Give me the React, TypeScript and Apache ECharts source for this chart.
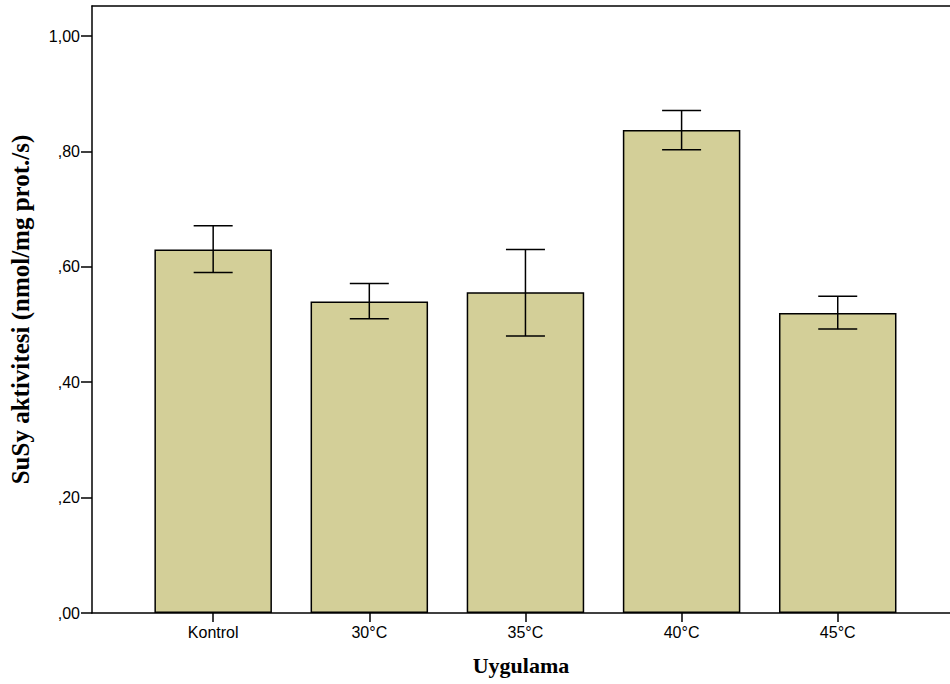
import React, { useEffect, useRef } from "react";
import * as echarts from "echarts";

const categories = ["Kontrol", "30°C", "35°C", "40°C", "45°C"];
const means = [0.63, 0.54, 0.556, 0.837, 0.52];
const errLow = [0.59, 0.51, 0.48, 0.803, 0.492];
const errHigh = [0.671, 0.571, 0.63, 0.871, 0.549];
const yTicks = [0, 0.2, 0.4, 0.6, 0.8, 1.0];

function fmtY(v: number): string {
  const s = v.toFixed(2).replace(".", ",");
  return s.startsWith("0") ? s.slice(1) : s;
}

export default function App() {
  const ref = useRef<HTMLDivElement>(null);
  useEffect(() => {
    if (!ref.current) return;
    const chart = echarts.init(ref.current, null, { renderer: "svg" });
    const idx = categories.map((_, i) => i);
    chart.setOption({
      animation: false,
      backgroundColor: "#ffffff",
      grid: { left: 92, right: 0, top: 6, bottom: 71 },
      xAxis: [
        {
          type: "value",
          min: -0.776,
          max: 4.719,
          axisLine: { show: true, onZero: false, lineStyle: { color: "#000", width: 1.5 } },
          axisTick: { show: true, customValues: idx, length: 9, lineStyle: { color: "#000", width: 1.5 } },
          axisLabel: {
            customValues: idx,
            formatter: (v: number) => categories[Math.round(v)] ?? "",
            color: "#000",
            fontFamily: "Liberation Sans",
            fontSize: 16,
            margin: 11,
          },
          splitLine: { show: false },
          name: "Uygulama",
          nameLocation: "middle",
          nameGap: 41,
          nameTextStyle: { fontFamily: "Liberation Serif", fontWeight: "bold", fontSize: 22, color: "#000" },
        },
        {
          type: "value",
          position: "top",
          min: -0.776,
          max: 4.719,
          axisLine: { show: true, onZero: false, lineStyle: { color: "#000", width: 1.5 } },
          axisTick: { show: false },
          axisLabel: { show: false },
          splitLine: { show: false },
        },
      ],
      yAxis: {
        type: "value",
        min: 0,
        max: 1.052,
        axisLine: { show: true, onZero: false, lineStyle: { color: "#000", width: 1.5 } },
        axisTick: { show: true, customValues: yTicks, length: 11, lineStyle: { color: "#000", width: 1.5 } },
        axisLabel: {
          customValues: yTicks,
          formatter: (v: number) => fmtY(v),
          color: "#000",
          fontFamily: "Liberation Sans",
          fontSize: 16,
          margin: 12,
        },
        splitLine: { show: false },
        name: "SuSy aktivitesi (nmol/mg prot./s)",
        nameLocation: "middle",
        nameGap: 59,
        nameTextStyle: { fontFamily: "Liberation Serif", fontWeight: "bold", fontSize: 25, color: "#000" },
      },
      series: [
        {
          type: "bar",
          xAxisIndex: 0,
          data: means.map((m, i) => [i, m]),
          barWidth: 117.5,
          itemStyle: { color: "#d3cf98", borderColor: "#000", borderWidth: 1.5 },
        },
        {
          type: "custom",
          xAxisIndex: 0,
          data: idx.map((i) => [i, errLow[i], errHigh[i]]),
          renderItem: (_params: any, api: any) => {
            const x = api.value(0);
            const lo = api.coord([x, api.value(1)]);
            const hi = api.coord([x, api.value(2)]);
            const hw = 19.5;
            const style = { stroke: "#000", lineWidth: 1.5 };
            return {
              type: "group",
              children: [
                { type: "line", shape: { x1: hi[0], y1: hi[1], x2: lo[0], y2: lo[1] }, style },
                { type: "line", shape: { x1: hi[0] - hw, y1: hi[1], x2: hi[0] + hw, y2: hi[1] }, style },
                { type: "line", shape: { x1: lo[0] - hw, y1: lo[1], x2: lo[0] + hw, y2: lo[1] }, style },
              ],
            };
          },
          z: 5,
        },
      ],
    });
    return () => chart.dispose();
  }, []);
  return (
    <div
      ref={ref}
      style={{ position: "fixed", left: 0, top: 0, width: 950, height: 684 }}
    />
  );
}
